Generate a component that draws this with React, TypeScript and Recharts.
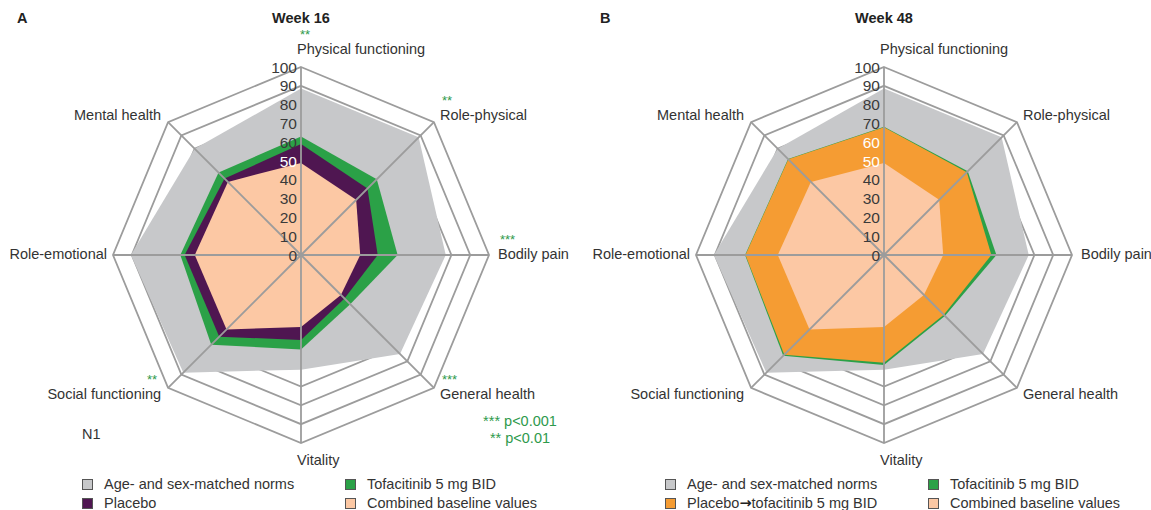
import React from 'react';
import { RadarChart, Radar, PolarGrid, PolarAngleAxis, PolarRadiusAxis } from 'recharts';

// ---------- data ----------
const categories = [
  'Physical functioning',
  'Role-physical',
  'Bodily pain',
  'General health',
  'Vitality',
  'Social functioning',
  'Role-emotional',
  'Mental health',
];

const radiusTickValues = [0, 10, 20, 30, 40, 50, 60, 70, 80, 90, 100];

const norms = [88.5, 88.5, 77, 74.5, 61, 88.5, 90.5, 80];
const baseline = [49, 41.5, 31.5, 30, 38.3, 56, 56.5, 55];

const week16Tofacitinib = [63, 57, 51.4, 37, 50.2, 67.5, 64.2, 62];
const week16Placebo = [59, 50, 40.8, 32.7, 45.2, 61.5, 61.9, 57.5];

const week48Tofacitinib = [68.2, 63, 59.8, 45.8, 58.5, 75.8, 73.9, 72.2];
const week48PlaceboToTofacitinib = [68, 62.3, 57.1, 45, 57.3, 75, 73.7, 72];

const week16Significance = ['**', '**', '***', '***', '', '**', '', ''];
const week48Significance = ['', '', '', '', '', '', '', ''];

const week16WhiteTicks = [50];
const week48WhiteTicks = [50, 60];

const pValueNotes = ['*** p<0.001', '** p<0.01'];

// ---------- styles ----------
const FONT = '"Liberation Sans", Arial, Helvetica, sans-serif';
const TEXT = '#333333';
const GRID = '#9c9c9c';
const SIG = '#2e9a4c';
const COLORS = {
  norms: '#c7c8ca',
  tofa: '#2ba147',
  placebo: '#4f1651',
  baseline: '#fcc8a4',
  switch: '#f59c33',
};

const CX = 301;
const CY = 255;
const R = 188;
const FS = 14.5;

type Series = { key: string; name: string; values: number[]; color: string };

const week16Series: Series[] = [
  { key: 'norms', name: 'Age- and sex-matched norms', values: norms, color: COLORS.norms },
  { key: 'tofa', name: 'Tofacitinib 5 mg BID', values: week16Tofacitinib, color: COLORS.tofa },
  { key: 'placebo', name: 'Placebo', values: week16Placebo, color: COLORS.placebo },
  { key: 'baseline', name: 'Combined baseline values', values: baseline, color: COLORS.baseline },
];

const week48Series: Series[] = [
  { key: 'norms', name: 'Age- and sex-matched norms', values: norms, color: COLORS.norms },
  { key: 'tofa', name: 'Tofacitinib 5 mg BID', values: week48Tofacitinib, color: COLORS.tofa },
  { key: 'switch', name: 'Placebo\u2192tofacitinib 5 mg BID', values: week48PlaceboToTofacitinib, color: COLORS.switch },
  { key: 'baseline', name: 'Combined baseline values', values: baseline, color: COLORS.baseline },
];

// legend layout: [column][row] keys
const week16LegendOrder = [['norms', 'placebo'], ['tofa', 'baseline']];
const week48LegendOrder = [['norms', 'switch'], ['tofa', 'baseline']];

function makeAngleTick(sig: string[]) {
  return (props: any) => {
    const value = props?.payload?.value;
    let i = categories.indexOf(value);
    if (i < 0) i = props.index ?? 0;
    const ang = ((90 - (i * 360) / categories.length) * Math.PI) / 180;
    const c = Math.cos(ang);
    const s = Math.sin(ang);
    const vx = CX + R * c;
    const vy = CY - R * s;
    let x: number;
    let y: number;
    let anchor: 'start' | 'end';
    let sx: number;
    let sy: number;
    if (Math.abs(c) < 0.01) {
      anchor = 'start';
      x = vx - 4;
      y = s > 0 ? vy - 13 : vy + 22;
      sx = x + 3;
      sy = y - 15;
    } else if (c > 0) {
      anchor = 'start';
      x = vx + (c > 0.99 ? 9 : 6);
      y = s > 0.5 ? vy - 2 : s < -0.5 ? vy + 11 : vy + 4;
      sx = x + 2;
      sy = y - 15;
    } else {
      anchor = 'end';
      x = vx - (c < -0.99 ? 6 : 7);
      y = s > 0.5 ? vy - 2 : s < -0.5 ? vy + 11 : vy + 4;
      sx = x - 4;
      sy = y - 15;
    }
    return (
      <g>
        <text x={x} y={y} textAnchor={anchor} fontSize={FS} fontFamily={FONT} fill={TEXT}>
          {value}
        </text>
        {sig[i] ? (
          <text x={sx} y={sy} textAnchor={anchor} fontSize={13} fontFamily={FONT} fill={SIG}>
            {sig[i]}
          </text>
        ) : null}
      </g>
    );
  };
}

function makeRadiusTick(white: number[]) {
  return (props: any) => {
    const v = props?.payload?.value;
    return (
      <text
        x={props.x - 4}
        y={props.y}
        dy="0.36em"
        textAnchor="end"
        fontSize={15.5}
        fontFamily={FONT}
        fill={white.includes(v) ? '#ffffff' : '#3a3a3a'}
      >
        {v}
      </text>
    );
  };
}

function LegendLabel({ name }: { name: string }) {
  const parts = name.split('\u2192');
  if (parts.length < 2) return <>{name}</>;
  return (
    <>
      {parts[0]}
      <tspan fontFamily='"DejaVu Sans", sans-serif' fontWeight="bold" fill="#222">
        {'\u2192'}
      </tspan>
      {parts[1]}
    </>
  );
}

function Panel(props: {
  left: number;
  width: number;
  letter: string;
  title: string;
  series: Series[];
  sig: string[];
  whiteTicks: number[];
  legendOrder: string[][];
  showNotes: boolean;
}) {
  const { left, width, letter, title, series, sig, whiteTicks, legendOrder, showNotes } = props;
  const data = categories.map((cat, i) => {
    const row: any = { category: cat };
    series.forEach((s) => {
      row[s.key] = s.values[i];
    });
    return row;
  });
  const legendCols = [82, 345];
  const legendRows = [479, 498];
  return (
    <div style={{ position: 'absolute', left, top: 0, width, height: 510, overflow: 'hidden' }}>
      <RadarChart
        width={width}
        height={510}
        data={data}
        cx={CX}
        cy={CY}
        outerRadius={R}
        startAngle={90}
        endAngle={-270}
        margin={{ top: 0, right: 0, bottom: 0, left: 0 }}
      >
        <PolarGrid gridType="polygon" radialLines={false} stroke={GRID} strokeWidth={1.8} />
        {series.map((s) => (
          <Radar
            key={s.key}
            dataKey={s.key}
            name={s.name}
            fill={s.color}
            fillOpacity={1}
            stroke="none"
            dot={false}
            isAnimationActive={false}
          />
        ))}
        <PolarAngleAxis
          dataKey="category"
          orientation="inner"
          tickSize={R}
          axisLine={false}
          tickLine={{ stroke: GRID, strokeWidth: 1.8 }}
          tick={makeAngleTick(sig)}
        />
        <PolarRadiusAxis
          angle={90}
          type="number"
          domain={[0, 100]}
          tickCount={radiusTickValues.length}
          axisLine={false}
          tick={makeRadiusTick(whiteTicks)}
        />
      </RadarChart>
      <svg
        width={width}
        height={510}
        style={{ position: 'absolute', left: 0, top: 0, pointerEvents: 'none' }}
      >
        <text x={17} y={23} fontSize={FS} fontWeight="bold" fontFamily={FONT} fill="#222">
          {letter}
        </text>
        <text x={CX} y={23} textAnchor="middle" fontSize={FS} fontWeight="bold" fontFamily={FONT} fill="#222">
          {title}
        </text>
        {showNotes ? (
          <g>
            <text x={82} y={439} fontSize={FS} fontFamily={FONT} fill={TEXT}>
              N1
            </text>
            {pValueNotes.map((n, k) => (
              <text key={n} x={520} y={426 + k * 17} textAnchor="middle" fontSize={FS} fontFamily={FONT} fill={SIG}>
                {n}
              </text>
            ))}
          </g>
        ) : null}
        {legendOrder.map((col, ci) =>
          col.map((key, ri) => {
            const s = series.find((q) => q.key === key)!;
            const x = legendCols[ci];
            const y = legendRows[ri];
            return (
              <g key={key}>
                <rect x={x + 0.5} y={y + 0.5} width={10} height={10} fill={s.color} stroke="#555" strokeWidth={1} />
                <text x={x + 22} y={y + 10} fontSize={FS} fontFamily={FONT} fill={TEXT}>
                  <LegendLabel name={s.name} />
                </text>
              </g>
            );
          })
        )}
      </svg>
    </div>
  );
}

export default function App() {
  return (
    <div
      style={{
        position: 'absolute',
        left: 0,
        top: 0,
        width: 1151,
        height: 510,
        overflow: 'hidden',
        background: '#ffffff',
        fontFamily: FONT,
      }}
    >
      <Panel
        left={0}
        width={583}
        letter="A"
        title="Week 16"
        series={week16Series}
        sig={week16Significance}
        whiteTicks={week16WhiteTicks}
        legendOrder={week16LegendOrder}
        showNotes={true}
      />
      <Panel
        left={583}
        width={568}
        letter="B"
        title="Week 48"
        series={week48Series}
        sig={week48Significance}
        whiteTicks={week48WhiteTicks}
        legendOrder={week48LegendOrder}
        showNotes={false}
      />
    </div>
  );
}
